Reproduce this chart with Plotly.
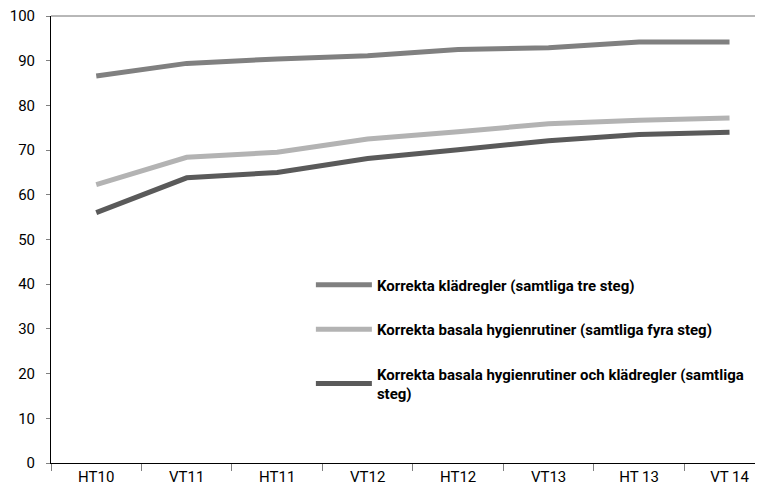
import plotly.graph_objects as go

categories = ["HT10", "VT11", "HT11", "VT12", "HT12", "VT13", "HT 13", "VT 14"]
kladregler = [86.6, 89.4, 90.4, 91.1, 92.5, 92.9, 94.2, 94.2]
hygien = [62.3, 68.4, 69.5, 72.5, 74.1, 75.9, 76.7, 77.2]
hygien_klad = [56.0, 63.8, 65.0, 68.1, 70.1, 72.1, 73.5, 74.0]
series_names = [
    "Korrekta klädregler (samtliga tre steg)",
    "Korrekta basala hygienrutiner (samtliga fyra steg)",
    "Korrekta basala hygienrutiner och klädregler (samtliga<br>steg)",
]
colors = ["#808080", "#b3b3b3", "#5a5a5a"]
y_ticks = [0, 10, 20, 30, 40, 50, 60, 70, 80, 90, 100]

FONT = "Roboto, Liberation Sans, sans-serif"

fig = go.Figure()
for i, (name, vals) in enumerate(zip(series_names, [kladregler, hygien, hygien_klad])):
    fig.add_trace(go.Scatter(
        x=categories, y=vals, name=name, mode="lines",
        line=dict(color=colors[i], width=5, shape="linear"),
        legendgroup=f"g{i}",
    ))

# page body has an 8px margin: figure starts at (8, 8)
fig.update_layout(
    width=755, height=489,
    margin=dict(l=43, r=0, t=8, b=34, autoexpand=False),
    paper_bgcolor="white", plot_bgcolor="white",
    font=dict(family=FONT, size=15, color="black"),
    showlegend=True,
    legend=dict(
        x=0.365, y=0.435, xanchor="left", yanchor="top",
        bgcolor="rgba(0,0,0,0)",
        font=dict(family=FONT, size=15, color="black", weight="bold"),
        tracegroupgap=22, itemwidth=56,
    ),
    xaxis=dict(
        type="category", range=[-0.5, 7.37], automargin=False,
        showline=True, linecolor="black", linewidth=1,
        ticks="outside", tickson="boundaries", ticklen=7, tickcolor="#808080",
        showgrid=False, zeroline=False,
        tickfont=dict(family=FONT, size=15, color="black"),
    ),
    yaxis=dict(
        range=[0, 100], tickvals=y_ticks, automargin=False,
        showline=True, linecolor="black", linewidth=1,
        ticks="outside", ticklen=4, tickcolor="#808080",
        ticklabeloverflow="allow", ticklabelstandoff=8,
        showgrid=False, zeroline=False,
        tickfont=dict(family=FONT, size=15, color="black"),
    ),
    shapes=[dict(type="line", xref="paper", yref="paper", x0=0, x1=1, y0=1, y1=1,
                 line=dict(color="#707070", width=1))],
)

fig.write_html("out.html")
